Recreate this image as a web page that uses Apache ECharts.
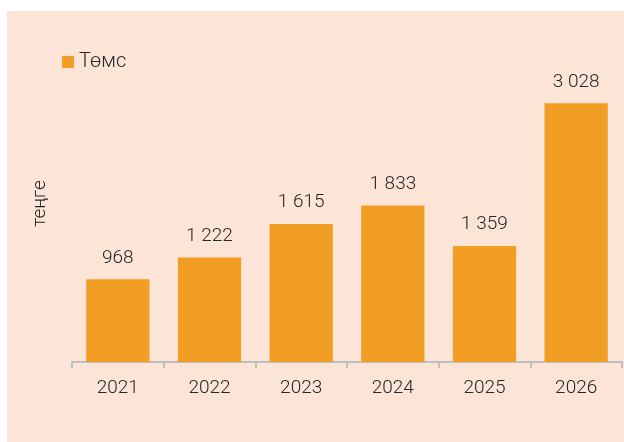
<!DOCTYPE html>
<html>
<head>
<meta charset="utf-8">
<script src="https://cdn.jsdelivr.net/npm/echarts@6/dist/echarts.min.js"></script>
<style>
  html, body { margin: 0; padding: 0; background: #ffffff; }
  #bg { position: absolute; left: 7px; top: 11px; width: 617px; height: 431px; background: #fce4d6; }
  #myChart { position: absolute; left: 0; top: 0; width: 624px; height: 442px; }
</style>
</head>
<body>
<div id="bg"></div>
<div id="myChart"></div>
<script>
// данные
var years = ['2021', '2022', '2023', '2024', '2025', '2026']
var prices = [968, 1222, 1615, 1833, 1359, 3028]
var seriesName = 'Төмс'
var unitName = 'теңге'

// 3028 -> "3 028"
function fmt (v) {
  return String(v).replace(/\B(?=(\d{3})+(?!\d))/g, ' ')
}

var myChart = echarts.init(document.getElementById('myChart'))
myChart.setOption({
  backgroundColor: 'transparent',
  textStyle: { fontFamily: 'Roboto', fontWeight: 300 },
  legend: {
    left: 57,
    top: 47,
    itemWidth: 12,
    itemHeight: 12,
    itemGap: 5,
    icon: 'rect',
    textStyle: { color: '#262626', fontSize: 20, fontFamily: 'Roboto', fontWeight: 300 },
    data: [seriesName]
  },
  grid: { left: 72, right: 2, top: 63, bottom: 80 },
  xAxis: {
    type: 'category',
    data: years,
    axisLine: { lineStyle: { color: '#bfbfbf', width: 2 } },
    axisTick: { show: true, length: 6, lineStyle: { color: '#bfbfbf', width: 2 } },
    axisLabel: { color: '#262626', fontSize: 19, fontWeight: 300, margin: 17 }
  },
  yAxis: {
    type: 'value',
    min: 0,
    max: 3500,
    name: unitName,
    nameLocation: 'middle',
    nameGap: 22,
    nameRotate: 90,
    nameTextStyle: { color: '#262626', fontSize: 19, fontWeight: 300, padding: [0, 0, 0, 18] },
    axisLine: { show: false },
    axisTick: { show: false },
    axisLabel: { show: false },
    splitLine: { show: false }
  },
  series: [{
    name: seriesName,
    type: 'bar',
    data: prices,
    barCategoryGap: '31%',
    itemStyle: { color: '#f29e24' },
    label: {
      show: true,
      position: 'top',
      distance: 12,
      color: '#262626',
      fontSize: 19,
      fontWeight: 300,
      formatter: function (p) { return fmt(p.value) }
    }
  }]
})
</script>
</body>
</html>
